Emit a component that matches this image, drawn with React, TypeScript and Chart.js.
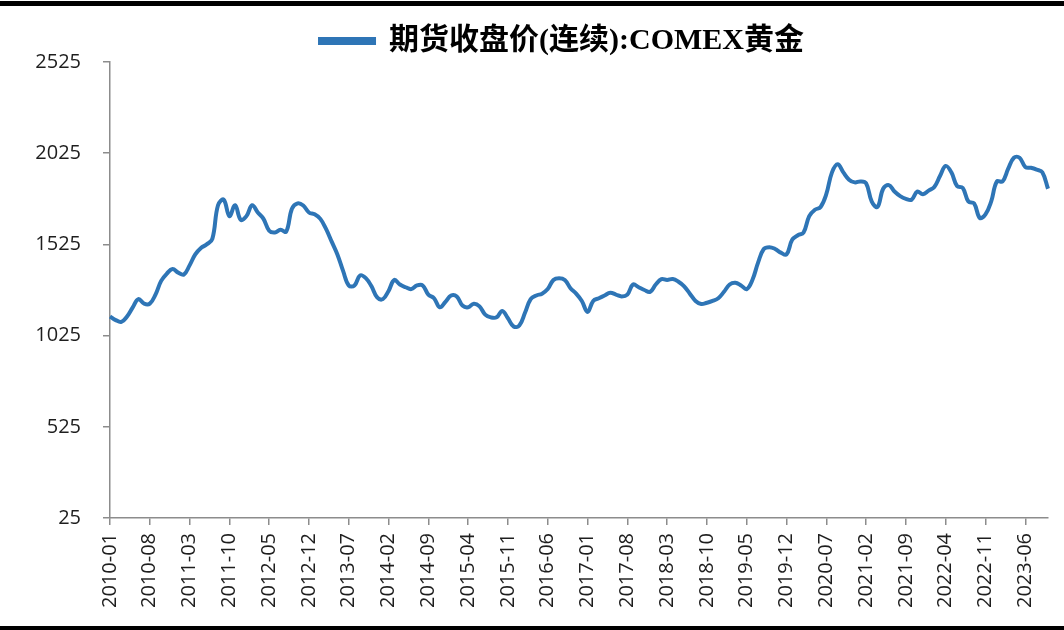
import React, { useEffect, useRef } from "react";
import { Chart, registerables } from "chart.js";

Chart.register(...registerables);

const START_YEAR = 2010;
const MONTH_COUNT = 166;
const months: string[] = Array.from({ length: MONTH_COUNT }, (_, i) =>
  `${START_YEAR + Math.floor(i / 12)}-${String((i % 12) + 1).padStart(2, "0")}`
);

const tickLabels = [
  "2010-01", "2010-08", "2011-03", "2011-10", "2012-05", "2012-12", "2013-07", "2014-02",
  "2014-09", "2015-04", "2015-11", "2016-06", "2017-01", "2017-08", "2018-03", "2018-10",
  "2019-05", "2019-12", "2020-07", "2021-02", "2021-09", "2022-04", "2022-11", "2023-06",
];

const yTicks = [25, 525, 1025, 1525, 2025, 2525];

const seriesName = "期货收盘价(连续):COMEX黄金";

const goldClose = [
  1130, 1110, 1100, 1130, 1180, 1225, 1200, 1200, 1250, 1325, 1365, 1390,
  1370, 1360, 1410, 1470, 1505, 1525, 1555, 1740, 1770, 1680, 1740, 1660,
  1680, 1740, 1700, 1665, 1600, 1590, 1605, 1595, 1720, 1750, 1738, 1700,
  1690, 1665, 1610, 1540, 1470, 1380, 1300, 1300, 1355, 1340, 1295, 1235,
  1225, 1270, 1330, 1305, 1290, 1280, 1300, 1300, 1250, 1230, 1180, 1210,
  1245, 1240, 1190, 1180, 1200, 1185, 1140, 1125, 1125, 1160, 1120, 1075,
  1080, 1150, 1225, 1245, 1255, 1280, 1330, 1340, 1330, 1285, 1255, 1215,
  1155, 1215, 1230, 1245, 1260, 1250, 1240, 1250, 1305, 1290, 1275, 1265,
  1305, 1335, 1330, 1335, 1320, 1295, 1255, 1215, 1198, 1205, 1215, 1230,
  1265, 1305, 1315, 1300, 1280, 1330, 1425, 1500, 1510, 1500, 1480, 1470,
  1550, 1575, 1590, 1680, 1715, 1730, 1800, 1920, 1965, 1920, 1880, 1865,
  1870, 1860, 1760, 1730, 1830, 1850, 1815, 1790, 1775, 1770, 1815, 1800,
  1820, 1840, 1900, 1955, 1920, 1845, 1835, 1760, 1750, 1670, 1690, 1760,
  1870, 1870, 1940, 2000, 2000, 1950, 1945, 1935, 1920, 1830,
];

const LINE_COLOR = "#2E75B6";
const AXIS_COLOR = "#8c8c8c";
const TEXT_COLOR = "#1e1e1e";

// moves the legend block so it sits where the reference places it
const LEGEND_DX = 38;
const LEGEND_DY = 4;

const legendShift = {
  id: "legendShift",
  afterLayout(chart: any) {
    const l = chart.legend;
    if (!l) return;
    l.left += LEGEND_DX;
    l.right += LEGEND_DX;
    l.top += LEGEND_DY;
    l.bottom += LEGEND_DY;
  },
};

export default function App() {
  const canvasRef = useRef<HTMLCanvasElement | null>(null);

  useEffect(() => {
    if (!canvasRef.current) return;
    const chart = new Chart(canvasRef.current, {
      type: "line",
      data: {
        labels: months,
        datasets: [
          {
            label: seriesName,
            data: goldClose,
            borderColor: LINE_COLOR,
            backgroundColor: LINE_COLOR,
            borderWidth: 4,
            pointRadius: 0,
            tension: 0.4,
            fill: false,
          },
        ],
      },
      plugins: [legendShift],
      options: {
        animation: false,
        responsive: false,
        maintainAspectRatio: false,
        layout: { padding: { top: 18, left: 0, right: 16, bottom: 0 } },
        plugins: {
          tooltip: { enabled: false },
          legend: {
            display: true,
            position: "top",
            align: "center",
            labels: {
              boxWidth: 54,
              boxHeight: 4,
              padding: 4,
              color: "#000",
              font: { family: '"Liberation Serif", "Noto Sans CJK SC", serif', size: 30, weight: "bold" },
            },
          },
        },
        scales: {
          x: {
            type: "category",
            offset: false,
            afterFit: (scale: any) => {
              scale.height = 112;
            },
            grid: {
              display: true,
              drawOnChartArea: false,
              drawTicks: true,
              tickLength: 7,
              color: AXIS_COLOR,
              lineWidth: 1.5,
            },
            border: { display: true, color: AXIS_COLOR, width: 1.5 },
            ticks: {
              autoSkip: false,
              maxRotation: 90,
              minRotation: 90,
              padding: 8,
              color: TEXT_COLOR,
              font: { family: '"Open Sans", "Liberation Sans", sans-serif', size: 20 },
              callback: function (_v: any, index: number) {
                const lab = months[index];
                return tickLabels.includes(lab) ? lab : null;
              },
            },
          },
          y: {
            type: "linear",
            min: 25,
            max: 2525,
            afterFit: (scale: any) => {
              scale.width = 110;
            },
            afterBuildTicks: (scale: any) => {
              scale.ticks = yTicks.map((v) => ({ value: v }));
            },
            grid: {
              display: true,
              drawOnChartArea: false,
              drawTicks: true,
              tickLength: 7,
              color: AXIS_COLOR,
              lineWidth: 1.5,
            },
            border: { display: true, color: AXIS_COLOR, width: 1.5 },
            ticks: {
              padding: 22,
              color: TEXT_COLOR,
              font: { family: '"Open Sans", "Liberation Sans", sans-serif', size: 20 },
              callback: (v: any) => String(v),
            },
          },
        },
      },
    });
    return () => chart.destroy();
  }, []);

  return (
    <div style={{ position: "fixed", left: 0, top: 0, width: 1064, height: 630, background: "#fff" }}>
      <div style={{ position: "absolute", left: 0, top: 1, width: 1064, height: 5, background: "#000" }} />
      <canvas ref={canvasRef} width={1064} height={630} style={{ position: "absolute", left: 0, top: 0 }} />
      <div style={{ position: "absolute", left: 0, top: 626, width: 1064, height: 4, background: "#000" }} />
    </div>
  );
}
